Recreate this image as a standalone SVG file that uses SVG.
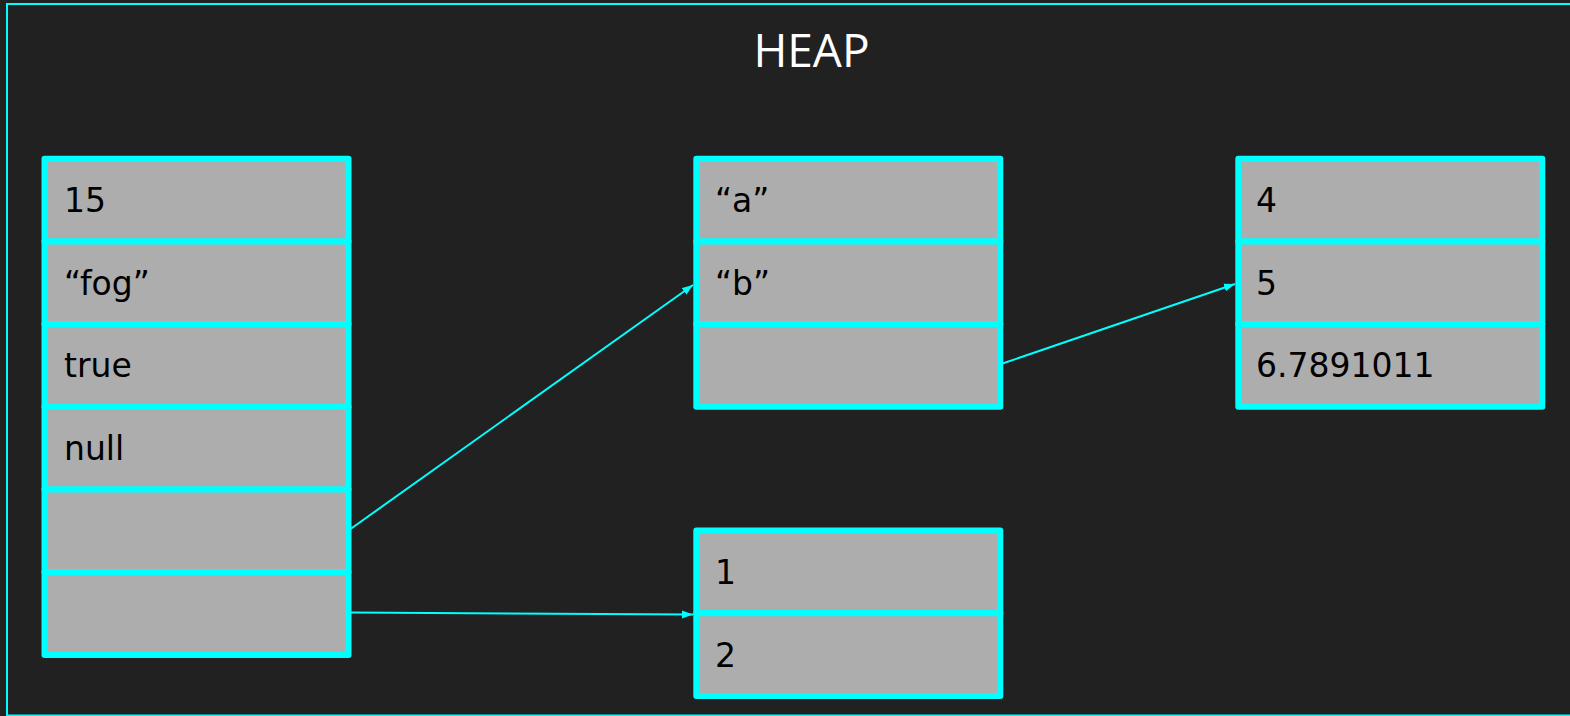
<svg xmlns="http://www.w3.org/2000/svg" width="1570" height="716" viewBox="0 0 1570 716">
  <style>
    .cell { fill: #adadad; stroke: #00ffff; stroke-width: 6; stroke-linejoin: round; }
    .val { font-family: "DejaVu Sans", sans-serif; font-size: 33px; fill: #000000; }
    .title { font-family: "Open Sans", "Noto Sans", sans-serif; font-size: 46px; fill: #ffffff; }
    .conn { stroke: #00ffff; stroke-width: 2; fill: none; }
  </style>
  <defs>
    <marker id="arrow" markerUnits="userSpaceOnUse" markerWidth="12" markerHeight="9" refX="11" refY="4.5" orient="auto">
      <path d="M0,0.5 L11,4.5 L0,8.5 z" fill="#00ffff"/>
    </marker>
  </defs>
  <rect x="0" y="0" width="1570" height="716" fill="#212121"/>
  <rect id="heap-frame" x="7" y="4" width="1620" height="711.5" fill="none" stroke="#00ffff" stroke-width="2"/>
  <text class="title" x="811.5" y="67" text-anchor="middle">HEAP</text>

  <g id="node-object">
    <rect class="cell" x="44.5" y="158.7" width="304" height="82.7"/>
    <rect class="cell" x="44.5" y="241.4" width="304" height="82.7"/>
    <rect class="cell" x="44.5" y="324.1" width="304" height="82.7"/>
    <rect class="cell" x="44.5" y="406.8" width="304" height="82.7"/>
    <rect class="cell" x="44.5" y="489.5" width="304" height="82.7"/>
    <rect class="cell" x="44.5" y="572.2" width="304" height="82.7"/>
    <text class="val" x="64" y="212">15</text>
    <text class="val" x="64" y="294.5">“fog”</text>
    <text class="val" x="64" y="377.3">true</text>
    <text class="val" x="64" y="460">null</text>
  </g>

  <g id="node-ab">
    <rect class="cell" x="696.3" y="158.7" width="304" height="82.7"/>
    <rect class="cell" x="696.3" y="241.4" width="304" height="82.7"/>
    <rect class="cell" x="696.3" y="324.1" width="304" height="82.7"/>
    <text class="val" x="715" y="212">“a”</text>
    <text class="val" x="715" y="294.5">“b”</text>
  </g>

  <g id="node-nums">
    <rect class="cell" x="1238.3" y="158.7" width="304" height="82.7"/>
    <rect class="cell" x="1238.3" y="241.4" width="304" height="82.7"/>
    <rect class="cell" x="1238.3" y="324.1" width="304" height="82.7"/>
    <text class="val" x="1256" y="212">4</text>
    <text class="val" x="1256" y="294.5">5</text>
    <text class="val" x="1256" y="377.3">6.7891011</text>
  </g>

  <g id="node-12">
    <rect class="cell" x="696.3" y="530.5" width="304" height="82.7"/>
    <rect class="cell" x="696.3" y="613.2" width="304" height="82.7"/>
    <text class="val" x="715" y="584">1</text>
    <text class="val" x="715" y="666.5">2</text>
  </g>

  <g id="connectors">
    <line class="conn" x1="350.5" y1="529" x2="693" y2="285" marker-end="url(#arrow)"/>
    <line class="conn" x1="350.5" y1="612.5" x2="693" y2="614.5" marker-end="url(#arrow)"/>
    <line class="conn" x1="1001" y1="364" x2="1235" y2="284" marker-end="url(#arrow)"/>
  </g>
</svg>
